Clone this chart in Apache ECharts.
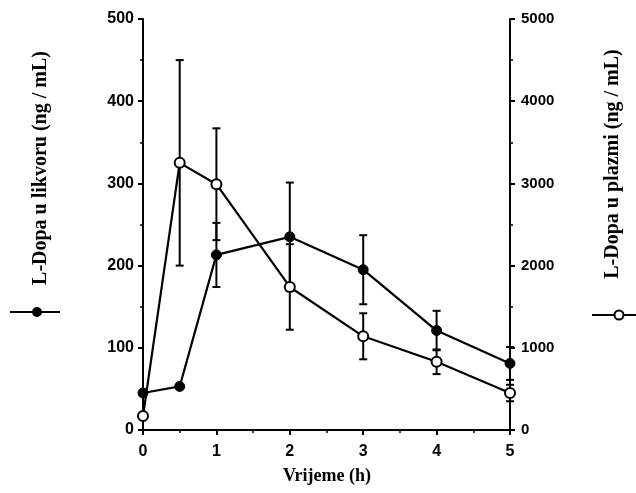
<!DOCTYPE html>
<html>
<head>
<meta charset="utf-8">
<script src="https://cdn.jsdelivr.net/npm/echarts@6/dist/echarts.min.js"></script>
<style>
html,body{margin:0;padding:0;background:#fff;}
#c{width:636px;height:493px;}
</style>
</head>
<body>
<div id="c"></div>
<script>
// Time points (h)
var times = [0, 0.5, 1, 2, 3, 4, 5];
// L-Dopa in CSF (ng/mL) - left axis, filled circles
var csfMean = [45, 53, 213, 235, 195, 121, 81];
var csfErr  = [null, null, 39, 66, 42, 24, 20];
// L-Dopa in plasma (ng/mL) - right axis, open circles
var plasmaMean = [170, 3250, 2990, 1740, 1140, 830, 450];
var plasmaErr  = [null, 1250, 680, 520, 280, 150, 100];
// Axis titles
var leftTitle = 'L-Dopa u likvoru (ng / mL)';
var rightTitle = 'L-Dopa u plazmi (ng / mL)';
var xTitle = 'Vrijeme (h)';

function pairs(xs, ys){ return xs.map(function(x,i){ return [x, ys[i]]; }); }
function errData(xs, m, e){
  var out = [];
  xs.forEach(function(x,i){ if(e[i] != null) out.push([x, m[i]-e[i], m[i]+e[i]]); });
  return out;
}
function errRender(params, api){
  var x = api.value(0), lo = api.value(1), hi = api.value(2);
  var pLo = api.coord([x, lo]), pHi = api.coord([x, hi]);
  var w = 4;
  var st = {stroke:'#000', lineWidth:2};
  return {type:'group', children:[
    {type:'line', shape:{x1:pLo[0], y1:pLo[1], x2:pHi[0], y2:pHi[1]}, style:st},
    {type:'line', shape:{x1:pLo[0]-w, y1:pLo[1], x2:pLo[0]+w, y2:pLo[1]}, style:st},
    {type:'line', shape:{x1:pHi[0]-w, y1:pHi[1], x2:pHi[0]+w, y2:pHi[1]}, style:st}
  ]};
}

var axisCommon = {
  axisLine:{show:true, lineStyle:{color:'#000', width:2}},
  axisTick:{show:true, inside:false, length:5, lineStyle:{color:'#000', width:2}},
  minorTick:{show:true, splitNumber:2, length:3, lineStyle:{color:'#000', width:1.5}},
  splitLine:{show:false},
  axisLabel:{color:'#000', fontFamily:'Liberation Sans', fontWeight:'bold', fontSize:16}
};

var chart = echarts.init(document.getElementById('c'), null, {renderer:'canvas'});
chart.setOption({
  animation:false,
  backgroundColor:'#fff',
  grid:{left:143, right:126, top:19, bottom:63},
  xAxis:Object.assign({type:'value', min:0, max:5, interval:1}, axisCommon,
    {axisLabel:Object.assign({}, axisCommon.axisLabel, {margin:14})}),
  yAxis:[
    Object.assign({type:'value', min:0, max:500, interval:100, position:'left'}, axisCommon,
      {axisLabel:Object.assign({}, axisCommon.axisLabel, {margin:9})}),
    Object.assign({type:'value', min:0, max:5000, interval:1000, position:'right'}, axisCommon,
      {axisLabel:Object.assign({}, axisCommon.axisLabel, {margin:11, fontSize:15,
        formatter:function(v){ return String(v); }})})
  ],
  series:[
    {type:'custom', yAxisIndex:0, renderItem:errRender, data:errData(times, csfMean, csfErr), z:2, clip:false, encode:{x:0, y:[1,2]}},
    {type:'custom', yAxisIndex:1, renderItem:errRender, data:errData(times, plasmaMean, plasmaErr), z:2, clip:false, encode:{x:0, y:[1,2]}},
    {type:'line', yAxisIndex:0, data:pairs(times, csfMean), symbol:'circle', symbolSize:10,
     lineStyle:{color:'#000', width:2.2}, itemStyle:{color:'#000', borderColor:'#000', borderWidth:1}, z:3},
    {type:'line', yAxisIndex:1, data:pairs(times, plasmaMean), symbol:'circle', symbolSize:10,
     lineStyle:{color:'#000', width:2.2}, itemStyle:{color:'#fff', borderColor:'#000', borderWidth:2}, z:4}
  ],
  graphic:[
    {type:'text', x:41, y:168, rotation:Math.PI/2, style:{text:leftTitle, fill:'#000',
      font:'bold 20px "Liberation Serif"', textAlign:'center', textVerticalAlign:'middle'}},
    {type:'text', x:613, y:164, rotation:Math.PI/2, style:{text:rightTitle, fill:'#000',
      font:'bold 20px "Liberation Serif"', textAlign:'center', textVerticalAlign:'middle'}},
    {type:'text', x:327, y:476, style:{text:xTitle, fill:'#000',
      font:'bold 18px "Liberation Serif"', textAlign:'center', textVerticalAlign:'middle'}},
    {type:'line', shape:{x1:10, y1:312, x2:60, y2:312}, style:{stroke:'#000', lineWidth:2}},
    {type:'circle', shape:{cx:37, cy:312, r:5}, style:{fill:'#000'}},
    {type:'line', shape:{x1:592, y1:315, x2:636, y2:315}, style:{stroke:'#000', lineWidth:2}},
    {type:'circle', shape:{cx:619, cy:315, r:4.5}, style:{fill:'#fff', stroke:'#000', lineWidth:2}}
  ]
});
</script>
</body>
</html>
